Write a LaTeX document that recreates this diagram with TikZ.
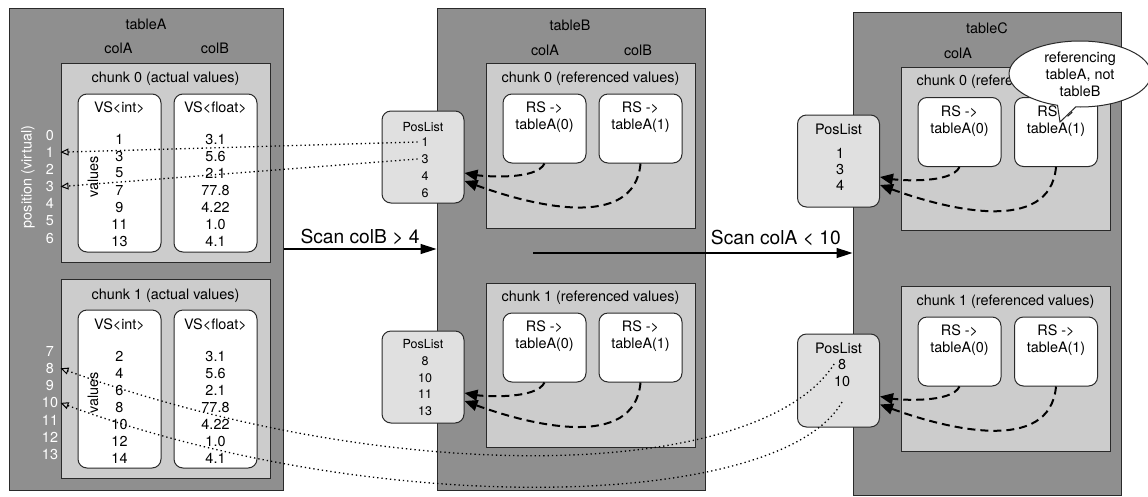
\documentclass[tikz,border=0pt]{standalone}
\usepackage{fontspec}
\setmainfont{TeX Gyre Heros}
\usetikzlibrary{arrows.meta,positioning,shapes.callouts}

\definecolor{tablegray}{HTML}{8F8F8F}
\definecolor{chunkgray}{HTML}{CCCCCC}
\definecolor{posgray}{HTML}{E0E0E0}
\definecolor{edgegray}{HTML}{2A2A2A}

\begin{document}
\begin{tikzpicture}[
    x = 1pt,
    y = -1pt,
    line width = 1pt,
    every node/.style = {font = \fontsize{14.4}{17}\selectfont},
    tablebox/.style = {
      draw = edgegray,
      fill = tablegray,
      inner sep = 0pt,
      minimum width = 268pt,
      minimum height = 482pt
    },
    chunkbox/.style = {
      draw = edgegray,
      fill = chunkgray,
      inner sep = 0pt,
      minimum width = 209pt
    },
    vsbox/.style = {
      draw = edgegray,
      fill = white,
      rounded corners = 9pt,
      inner sep = 0pt,
      minimum width = 83pt,
      minimum height = 158pt
    },
    rsbox/.style = {vsbox, minimum height = 69pt},
    posbox/.style = {vsbox, fill = posgray, minimum width = 82pt, minimum height = 92pt},
    posnum/.style = {text = white},
    smallnum/.style = {font = \fontsize{12.5}{15}\selectfont},
    scanlabel/.style = {font = \fontsize{19.2}{23}\selectfont},
    scanarrow/.style = {line width = 1.5pt, -{Triangle[length=16pt,width=10pt]}},
    refarrow/.style = {
      line width = 2pt,
      dash pattern = on 8pt off 5pt,
      -{Triangle[length=13pt,width=11pt]}
    },
    dotline/.style = {
      line width = 1.3pt,
      dash pattern = on 1.3pt off 3pt,
      -{Triangle[open,length=8pt,width=7pt,line width=1pt]}
    },
    notebubble/.style = {
      ellipse callout,
      draw = edgegray,
      fill = white,
      align = center,
      inner sep = 0pt,
      minimum width = 142pt,
      minimum height = 66pt
    }
  ]
  \useasboundingbox (0,0) rectangle (1148,496);

  % tables
  \node[tablebox, minimum width = 274pt] (tA) at (146,249) {};
  \node[tablebox] (tB) at (571,249) {};
  \node[tablebox, minimum height = 483pt] (tC) at (987,253.5) {};

  \node (tAname) at (146,24) {tableA};
  \node (tAcolA) at (118.5,48) {colA};
  \node (tAcolB) at (215,48) {colB};
  \node (tBname) at (570,25) {tableB};
  \node (tBcolA) at (545,50) {colA};
  \node (tBcolB) at (638,50) {colB};
  \node (tCname) at (987,28) {tableC};
  \node (tCcolA) at (958,53) {colA};

  % chunks
  \node[chunkbox, minimum height = 199pt] (cA0) at (165.5,162.5) {};
  \node[chunkbox, minimum height = 199pt] (cA1) at (165.5,378.5) {};
  \node[chunkbox, minimum height = 165pt] (cB0) at (590.5,145.5) {};
  \node[chunkbox, minimum height = 164pt] (cB1) at (590.5,365) {};
  \node[chunkbox, minimum height = 163pt] (cC0) at (1005.5,148.5) {};
  \node[chunkbox, minimum height = 165pt] (cC1) at (1005.5,368.5) {};

  \node (cA0name) at ([yshift=-16pt]cA0.north) {chunk 0 (actual values)};
  \node (cA1name) at ([yshift=-17pt]cA1.north) {chunk 1 (actual values)};
  \node (cB0name) at ([yshift=-16pt]cB0.north) {chunk 0 (referenced values)};
  \node (cB1name) at ([yshift=-15pt]cB1.north) {chunk 1 (referenced values)};
  \node (cC0name) at ([yshift=-15pt]cC0.north) {chunk 0 (referenced values)};
  \node (cC1name) at ([yshift=-16pt]cC1.north) {chunk 1 (referenced values)};

  % value segments of tableA
  \node[vsbox] (vsA0i) at (119.5,173) {};
  \node[vsbox] (vsA0f) at (215.5,173) {};
  \node[vsbox] (vsA1i) at (119.5,389) {};
  \node[vsbox] (vsA1f) at (215.5,389) {};
  \node (vsA0iname) at ([yshift=-14pt]vsA0i.north) {VS<int>};
  \node (vsA0fname) at ([yshift=-14pt]vsA0f.north) {VS<float>};
  \node (vsA1iname) at ([yshift=-15pt]vsA1i.north) {VS<int>};
  \node (vsA1fname) at ([yshift=-15pt]vsA1f.north) {VS<float>};

  \foreach \v [count=\i from 0] in {1,3,5,7,9,11,13}
    \node (vA0i-\i) at (119.5,{139+17*\i}) {\v};
  \foreach \v [count=\i from 0] in {3.1,5.6,2.1,77.8,4.22,1.0,4.1}
    \node (vA0f-\i) at (215.5,{139+17*\i}) {\v};
  \foreach \v [count=\i from 0] in {2,4,6,8,10,12,14}
    \node (vA1i-\i) at (119.5,{356+17*\i}) {\v};
  \foreach \v [count=\i from 0] in {3.1,5.6,2.1,77.8,4.22,1.0,4.1}
    \node (vA1f-\i) at (215.5,{356+17*\i}) {\v};

  \node[rotate=90] (valA0) at (93,177) {values};
  \node[rotate=90] (valA1) at (93,393) {values};

  % virtual positions
  \node[posnum, rotate=90] (posaxis) at (28,177) {position (virtual)};
  \foreach \n in {0,...,6}
    \node[posnum] (pos\n) at (50,{135+17.2*\n}) {\n};
  \foreach \n in {7,...,13}
    \node[posnum] (pos\n) at (50,{351+17.3*(\n-7)}) {\n};

  % reference segments
  \node[rsbox] (rsB0-0) at (544.5,128.5) {};
  \node[rsbox] (rsB0-1) at (640.5,128.5) {};
  \node[rsbox] (rsB1-0) at (544.5,347.5) {};
  \node[rsbox] (rsB1-1) at (640.5,347.5) {};
  \node[rsbox] (rsC0-0) at (959.5,132) {};
  \node[rsbox] (rsC0-1) at (1056,132) {};
  \node[rsbox] (rsC1-0) at (959.5,351.5) {};
  \node[rsbox] (rsC1-1) at (1056,351.5) {};
  \foreach \r in {B0,B1,C0,C1}
    \foreach \k in {0,1}
      \node[align=center] (rstext\r-\k) at ([yshift=-24pt]rs\r-\k.north) {RS ->\\tableA(\k)};

  % position lists
  \node[posbox] (plB0) at (423,157) {};
  \node[posbox] (plB1) at (423,377) {};
  \node[posbox] (plC0) at (838.5,161) {};
  \node[posbox, minimum height = 93pt] (plC1) at (838.5,380.5) {};

  \node[smallnum] (plB0name) at ([yshift=-17pt]plB0.north) {PosList};
  \node[smallnum] (plB1name) at ([yshift=-14pt]plB1.north) {PosList};
  \node (plC0name) at ([yshift=-15pt]plC0.north) {PosList};
  \node (plC1name) at ([yshift=-15pt]plC1.north) {PosList};
  \foreach \v [count=\i from 0] in {1,3,4,6}
    \node[smallnum] (pB0-\v) at (425,{142+17*\i}) {\v};
  \foreach \v [count=\i from 0] in {8,10,11,13}
    \node[smallnum] (pB1-\v) at (425,{361+16.7*\i}) {\v};
  \foreach \v [count=\i from 0] in {1,3,4}
    \node (pC0-\v) at (840,{153+16*\i}) {\v};
  \foreach \v [count=\i from 0] in {8,10}
    \node (pC1-\v) at (842,{364+17*\i}) {\v};

  % references back to the position lists
  \foreach \ch in {B0,B1,C0,C1} {
    \draw[refarrow] (rs\ch-0.south) to[out=-115, in=-10, looseness=0.6] ([yshift=-16pt]pl\ch.east);
    \draw[refarrow] (rs\ch-1.south) to[out=-95, in=-20] ([yshift=-24pt]pl\ch.east);
  }

  % scans
  \draw[scanarrow] (tA.east) -- node[scanlabel, above] (scanB) {Scan colB > 4} (tB.west);
  \coordinate (scanstart) at (533,253);
  \draw[scanarrow] (scanstart) -- (scanstart -| tC.west);
  \node[scanlabel, above left=4pt and 8pt of tC.west] (scanC) {Scan colA < 10};

  % positions pointing into tableA
  \coordinate[below=12pt of pC1-10] (tail10);
  \draw[dotline] (pB0-1.west) -- (cA0.west |- pos1);
  \draw[dotline] (pB0-3.west) -- (cA0.west |- pos3);
  \draw[dotline] (pC1-8.west) .. controls (760,480) and (400,490) .. (cA1.west |- pos8);
  \draw[dotline] (tail10) .. controls (780,510) and (380,520) .. (cA1.west |- pos10);

  \node[notebubble, callout absolute pointer={(1060,122)}] (note) at (1080,74)
    {referencing\\tableA, not\\tableB};
\end{tikzpicture}
\end{document}
